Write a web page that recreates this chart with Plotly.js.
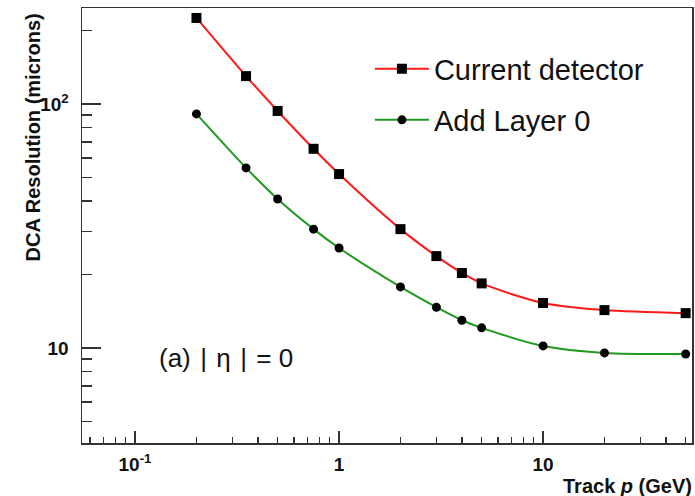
<!DOCTYPE html>
<html>
<head>
<meta charset="utf-8">
<script src="https://cdn.plot.ly/plotly-3.0.1.min.js"></script>
<style>html,body{margin:0;padding:0;background:#fff;}#chart{width:695px;height:496px;}</style>
</head>
<body>
<div id="chart"></div>
<script>
// Data
const trackP = [0.2, 0.35, 0.5, 0.75, 1, 2, 3, 4, 5, 10, 20, 50];
const currentDetector = [225, 130, 93.6, 65.5, 51.6, 30.7, 23.8, 20.3, 18.4, 15.3, 14.3, 13.9];
const addLayer0 = [91.0, 54.7, 40.8, 30.7, 25.7, 17.8, 14.7, 13.0, 12.1, 10.2, 9.55, 9.45];
const seriesNames = ["Current detector", "Add Layer 0"];

const xTickVals = [0.1, 1, 10];
const xTickText = ["10<sup>-1</sup>", "1", "10"];
const xMinorVals = [0.06, 0.07, 0.08, 0.09, 0.2, 0.3, 0.4, 0.5, 0.6, 0.7, 0.8, 0.9,
                    2, 3, 4, 5, 6, 7, 8, 9, 20, 30, 40, 50];
const yTickVals = [10, 100];
const yTickText = ["10", "10<sup>2</sup>"];
const yMinorVals = [5, 6, 7, 8, 9, 20, 30, 40, 50, 60, 70, 80, 90, 200];

const font = "Liberation Sans, Arial, Helvetica, sans-serif";
const hs = "\u200A";

const traces = [
  {
    x: trackP, y: currentDetector, name: seriesNames[0], type: "scatter", mode: "lines+markers",
    line: {color: "#ff1a1a", width: 2, shape: "spline", smoothing: 0.8},
    marker: {symbol: "square", size: 10, color: "#000"},
    legend: "legend"
  },
  {
    x: trackP, y: addLayer0, name: seriesNames[1], type: "scatter", mode: "lines+markers",
    line: {color: "#1f9a1f", width: 2, shape: "spline", smoothing: 0.8},
    marker: {symbol: "circle", size: 9, color: "#000"},
    legend: "legend2"
  }
];

const axisCommon = {
  showline: true, linecolor: "#333", linewidth: 1.5, mirror: true,
  showgrid: false, zeroline: false, ticks: "inside", tickcolor: "#333", tickwidth: 1.5,
  tickmode: "array",
  tickfont: {family: font, size: 19, color: "#111", weight: "bold"}
};

const layout = {
  width: 695, height: 496,
  margin: {l: 82, r: 3, t: 8, b: 53},
  paper_bgcolor: "#fff", plot_bgcolor: "#fff",
  showlegend: true,
  xaxis: Object.assign({}, axisCommon, {
    type: "log", range: [-1.26, 1.73],
    tickvals: xTickVals, ticktext: xTickText, ticklen: 12, ticklabelstandoff: 4,
    minor: {tickmode: "array", tickvals: xMinorVals, ticks: "inside", ticklen: 6, tickcolor: "#333", tickwidth: 1.5}
  }),
  yaxis: Object.assign({}, axisCommon, {
    type: "log", range: [0.611, 2.393],
    tickvals: yTickVals, ticktext: yTickText, ticklen: 19, ticklabelstandoff: 8,
    minor: {tickmode: "array", tickvals: yMinorVals, ticks: "inside", ticklen: 10, tickcolor: "#333", tickwidth: 1.5}
  }),
  legend: {
    x: 0.472, y: 0.86, xanchor: "left", yanchor: "middle",
    bgcolor: "rgba(0,0,0,0)", font: {family: font, size: 29, color: "#111"}, itemwidth: 54
  },
  legend2: {
    x: 0.472, y: 0.7425, xanchor: "left", yanchor: "middle",
    bgcolor: "rgba(0,0,0,0)", font: {family: font, size: 29, color: "#111"}, itemwidth: 54
  },
  annotations: [
    {
      xref: "paper", yref: "paper", x: 1.003, y: -0.099, xanchor: "right", yanchor: "middle",
      text: "<b>Track <i>p</i> (GeV)</b>", showarrow: false,
      font: {family: font, size: 20, color: "#111"}
    },
    {
      xref: "paper", yref: "paper", x: -0.08, y: 0.703, xanchor: "center", yanchor: "middle",
      text: "<b>DCA Resolution (microns)</b>", textangle: -90, showarrow: false,
      font: {family: font, size: 20, color: "#111"}
    },
    {
      xref: "paper", yref: "paper", x: 0.123, y: 0.195, xanchor: "left", yanchor: "middle",
      text: "(a)" + hs + " |" + hs + " η " + hs + "|" + hs + " = 0", showarrow: false,
      font: {family: font, size: 26, color: "#111"}
    }
  ]
};

Plotly.newPlot("chart", traces, layout, {displayModeBar: false, staticPlot: true});
</script>
</body>
</html>
